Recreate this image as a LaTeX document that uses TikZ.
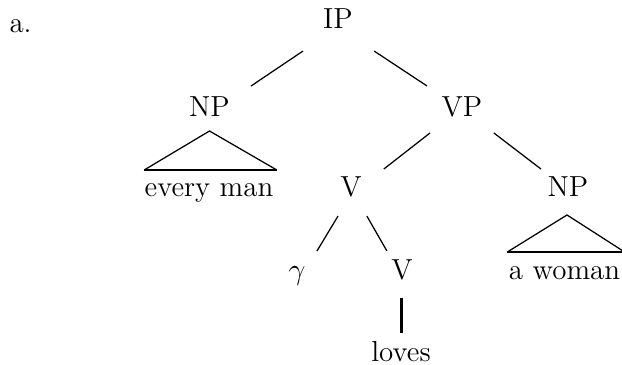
\documentclass[tikz,border=0pt]{standalone}
\begin{document}
\begin{tikzpicture}[x=0.4pt,y=-0.4pt,
  lab/.style={anchor=base,inner sep=0pt,font=\fontsize{11.6}{14}\selectfont},
  edge/.style={line width=0.5pt},
  roofside/.style={line width=0.5pt},
  roofbase/.style={line width=0.8pt},
  stem/.style={line width=1.2pt}]
\useasboundingbox (0,0) rectangle (622,365);
\node[lab,anchor=base west] (ex) at (9,33) {a.};
\node[lab] (IP) at (338,29) {IP};
\node[lab] (NPa) at (209.5,117) {NP};
\node[lab] (VP) at (462,117) {VP};
\node[lab] (em) at (209,197) {every man};
\node[lab] (Va) at (351,197) {V};
\node[lab] (NPb) at (568,197) {NP};
\node[lab] (aw) at (564.5,280) {a woman};
\node[lab] (g) at (297,280) {$\gamma$};
\node[lab] (Vb) at (402,280) {V};
\node[lab] (lv) at (401,362) {loves};
% edges
\draw[edge,shorten <=15.8pt,shorten >=22.2pt] ([xshift=-0.9pt]IP.base) -- ([xshift=-1.8pt]NPa.base);
\draw[edge,shorten <=16pt,shorten >=22.5pt] ([xshift=1.1pt]IP.base) -- ([xshift=4.8pt]VP.base);
\draw[edge,shorten <=10.4pt,shorten >=18.2pt] ([xshift=-4.6pt]VP.base) -- ([xshift=-1.2pt]Va.base);
\draw[edge,shorten <=10.5pt,shorten >=18.4pt] ([xshift=4.4pt]VP.base) -- ([xshift=3.8pt]NPb.base);
\draw[edge,shorten <=8.9pt,shorten >=13.5pt] ([xshift=-0.6pt]Va.base) -- ([xshift=1pt]g.base);
\draw[edge,shorten <=8.8pt,shorten >=13.4pt] ([xshift=2pt]Va.base) -- ([xshift=0.6pt]Vb.base);
\draw[stem,shorten <=7.2pt,shorten >=11.6pt] ([xshift=-0.2pt]Vb.base) -- ([xshift=0.2pt]lv.base);
% roofs
\coordinate (ra) at ([yshift=-5.6pt]NPa.base);
\coordinate (rab1) at ([yshift=10.8pt]em.base west);
\coordinate (rab2) at ([xshift=1.2pt,yshift=10.8pt]em.base east);
\draw[roofside] (rab1) -- (ra) -- (rab2);
\draw[roofbase] (rab1) -- (rab2);
\coordinate (rb) at ([xshift=-0.4pt,yshift=-7.2pt]NPb.base);
\coordinate (rbb1) at ([xshift=-0.4pt,yshift=11.2pt]aw.base west);
\coordinate (rbb2) at ([xshift=1.6pt,yshift=11.2pt]aw.base east);
\draw[roofside] (rbb1) -- (rb) -- (rbb2);
\draw[roofbase] (rbb1) -- (rbb2);
\end{tikzpicture}
\end{document}
